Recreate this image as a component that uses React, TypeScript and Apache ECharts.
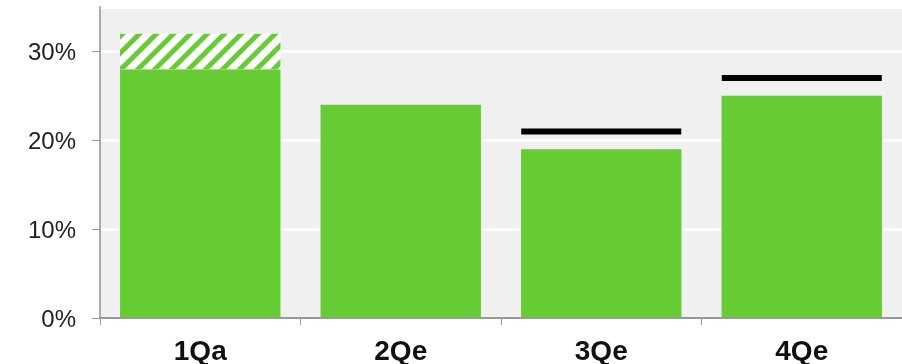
import React, { useEffect, useRef } from "react";
import * as echarts from "echarts";

const categories = ["1Qa", "2Qe", "3Qe", "4Qe"];
const actualValues = [28, 24, 19, 25];
const hatchedExtra: (number | string)[] = [4, "-", "-", "-"];
const markerValues: (number | string)[] = ["-", "-", 21, 27];
const yTicks = [0, 10, 20, 30];

const GREEN = "#66cc33";

export default function App() {
  const ref = useRef<HTMLDivElement>(null);
  useEffect(() => {
    if (!ref.current) return;
    const chart = echarts.init(ref.current, undefined, { renderer: "svg" });
    chart.setOption({
      animation: false,
      grid: {
        left: 100,
        right: 0,
        top: 7,
        bottom: 46,
        show: true,
        backgroundColor: "#f0f0f0",
        borderWidth: 0,
      },
      xAxis: {
        type: "category",
        data: categories,
        boundaryGap: true,
        axisLine: { show: true, lineStyle: { color: "#999", width: 2 } },
        axisTick: { show: true, length: 7, lineStyle: { color: "#999", width: 1 } },
        axisLabel: {
          fontFamily: "Liberation Sans, Arial, sans-serif",
          fontWeight: "bold",
          fontSize: 28,
          color: "#111",
          margin: 18,
        },
        z: 5,
      },
      yAxis: {
        type: "value",
        min: 0,
        max: 35,
        interval: 10,
        axisLine: { show: true, lineStyle: { color: "#aaa", width: 2 } },
        axisTick: { show: true, length: 8, lineStyle: { color: "#999", width: 1 } },
        splitLine: { show: true, lineStyle: { color: "#ffffff", width: 3 } },
        axisLabel: {
          fontFamily: "Liberation Sans, Arial, sans-serif",
          fontSize: 24,
          color: "#222",
          margin: 24,
          showMaxLabel: false,
          formatter: (v: number) => (yTicks.includes(v) ? v + "%" : ""),
        },
      },
      series: [
        {
          type: "bar",
          stack: "a",
          data: actualValues,
          barCategoryGap: "20%",
          itemStyle: { color: GREEN },
        },
        {
          type: "bar",
          stack: "a",
          data: hatchedExtra,
          itemStyle: {
            color: "#ffffff",
            decal: {
              symbol: "rect",
              symbolSize: 1,
              color: GREEN,
              backgroundColor: "#ffffff",
              dashArrayX: [1, 0],
              dashArrayY: [5, 7],
              rotation: -Math.PI / 4,
            },
          },
        },
        {
          type: "scatter",
          data: markerValues,
          symbol: "rect",
          symbolSize: [160, 6],
          itemStyle: { color: "#000000", opacity: 1 },
          z: 10,
        },
      ],
    });
    return () => chart.dispose();
  }, []);
  return (
    <div
      ref={ref}
      style={{ position: "fixed", left: 0, top: 0, width: 902, height: 364 }}
    />
  );
}
